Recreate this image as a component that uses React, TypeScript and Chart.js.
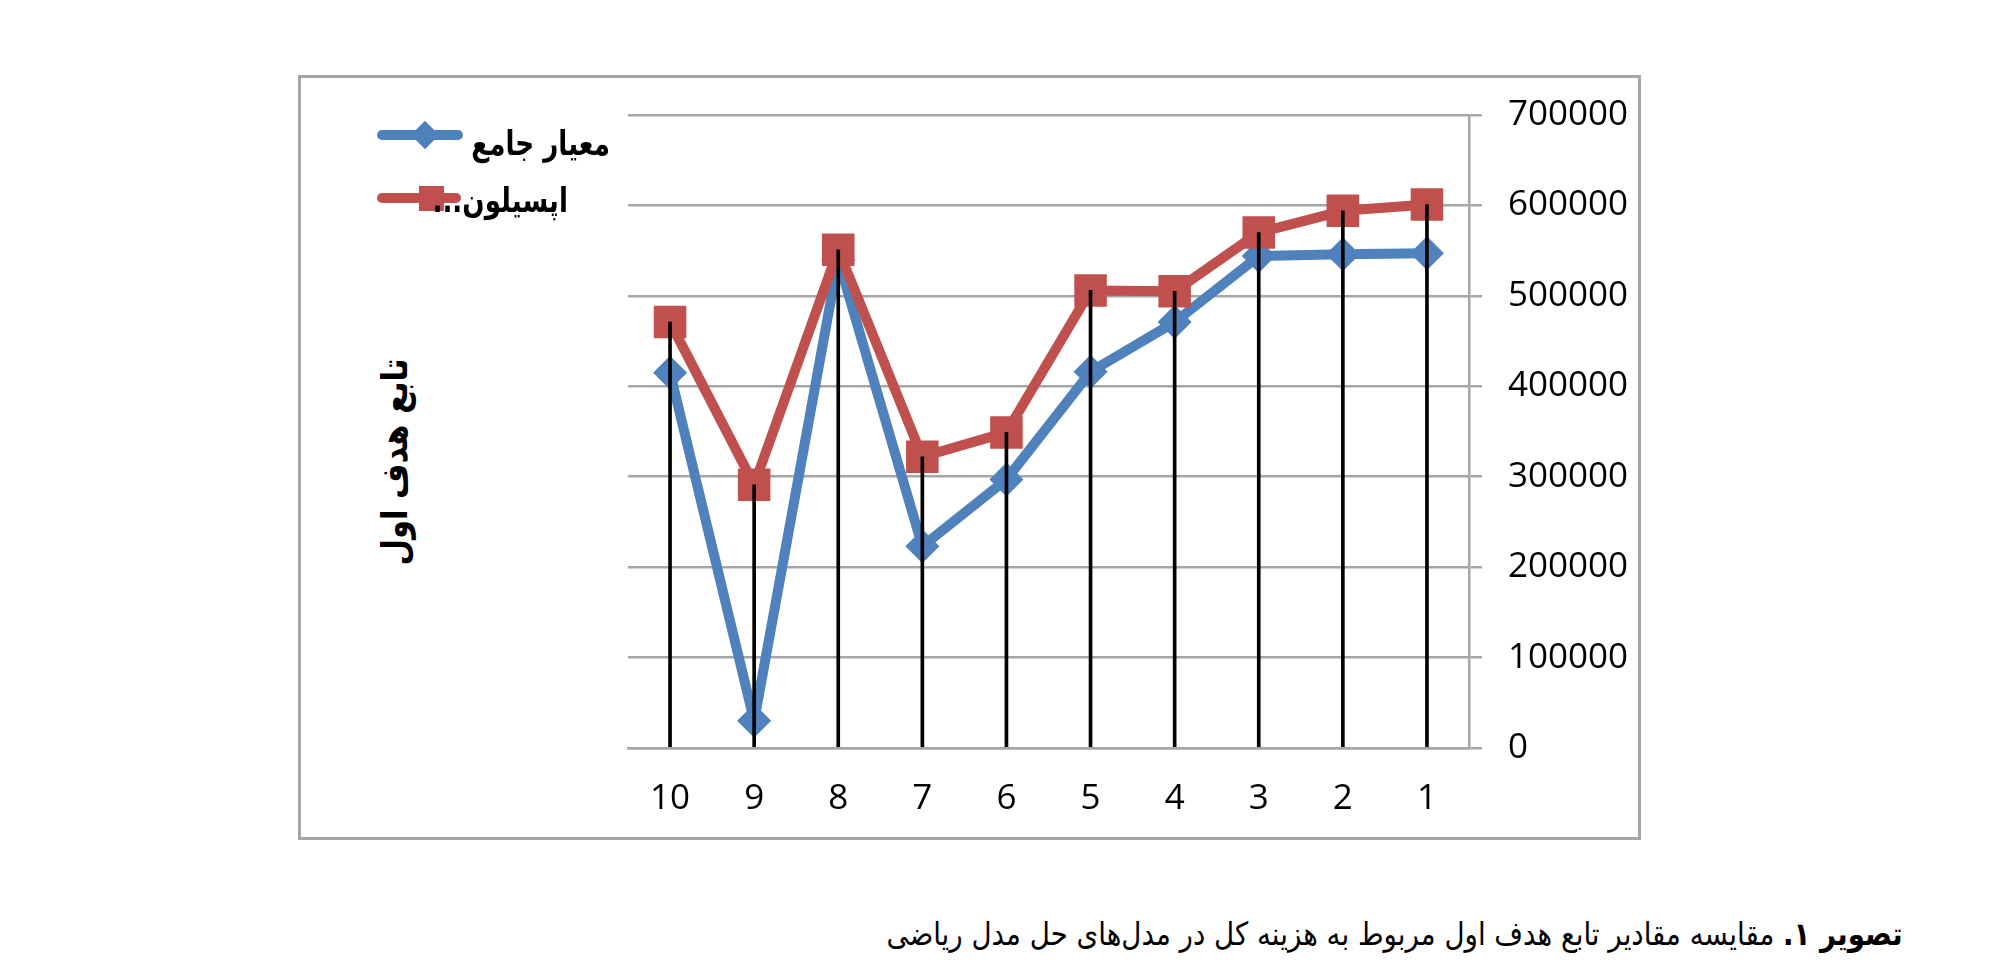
import { useEffect, useRef } from 'react'
import { Chart, registerables } from 'chart.js'

Chart.register(...registerables)

// categories run 1..10, drawn right-to-left (x axis reversed)
const CATEGORIES = ['1', '2', '3', '4', '5', '6', '7', '8', '9', '10']
const SERIES_NAMES = ['معیار جامع', 'اپسیلون...']
const COMPREHENSIVE = [547000, 546000, 544000, 471000, 416000, 297000, 223000, 540000, 30000, 415000]
const EPSILON = [601000, 594000, 570000, 505000, 506000, 349000, 322000, 551000, 291000, 471000]
const Y_MAX = 700000
const Y_STEP = 100000
const Y_TITLE = 'تابع هدف اول'
const CAPTION_BOLD = 'تصویر ۱.'
const CAPTION_TEXT = ' مقایسه مقادیر تابع هدف اول مربوط به هزینه کل در مدل‌های حل مدل ریاضی'

const BLUE = '#4f81bd'
const RED = '#c0504d'
const GRID = '#a6a6a6'
const AR_FONT = '"DejaVu Sans", sans-serif'

function LineChart() {
  const ref = useRef<HTMLCanvasElement>(null)

  useEffect(() => {
    if (!ref.current) return
    // drop lines go from the higher of the two points down to the axis
    const drop = COMPREHENSIVE.map((v, i) => Math.max(v, EPSILON[i]))
    const chart = new Chart(ref.current, {
      type: 'line',
      data: {
        labels: CATEGORIES,
        datasets: [
          { type: 'bar', label: 'drop', data: drop, backgroundColor: '#000', barThickness: 3, borderWidth: 0, order: 0 } as any,
          {
            label: SERIES_NAMES[1], data: EPSILON, borderColor: RED, backgroundColor: RED,
            borderWidth: 10, borderJoinStyle: 'round', borderCapStyle: 'round',
            pointStyle: 'rect', pointRadius: 23, pointBorderWidth: 0, order: 1,
          },
          {
            label: SERIES_NAMES[0], data: COMPREHENSIVE, borderColor: BLUE, backgroundColor: BLUE,
            borderWidth: 10, borderJoinStyle: 'round', borderCapStyle: 'round',
            pointStyle: 'rectRot', pointRadius: 17, pointBorderWidth: 0, order: 2,
          },
        ],
      },
      options: {
        animation: false,
        responsive: true,
        maintainAspectRatio: false,
        layout: { padding: { left: 28, top: 23, right: 0, bottom: 0 } },
        plugins: { legend: { display: false }, tooltip: { enabled: false } },
        scales: {
          x: {
            reverse: true,
            offset: true,
            grid: { display: false, drawTicks: false },
            border: { color: GRID, width: 2.5 },
            ticks: { color: '#000', padding: 30, font: { family: 'Open Sans', size: 35 } },
            afterFit: (s: any) => { s.height = 92 },
          },
          y: {
            position: 'right',
            min: 0,
            max: Y_MAX,
            grid: { color: GRID, lineWidth: 2.5, tickLength: 13 },
            border: { color: GRID, width: 2.5 },
            ticks: {
              stepSize: Y_STEP, color: '#000', padding: 26,
              font: { family: 'Open Sans', size: 35 },
              callback: (v: any) => String(v),
            },
            afterFit: (s: any) => { s.width = 191 },
          },
        },
      },
    })
    return () => chart.destroy()
  }, [])

  return (
    <div style={{ position: 'absolute', left: 600, top: 68, width: 1060, height: 772 }}>
      <canvas ref={ref} role="img" aria-label="مقایسه مقادیر تابع هدف اول" />
    </div>
  )
}

const arText = (size: number, weight: string, sx: number) => ({
  position: 'absolute' as const,
  font: `${weight} ${size}px ${AR_FONT}`,
  whiteSpace: 'nowrap' as const,
  lineHeight: 1,
  transformOrigin: 'right center',
  transform: `translateY(-50%) scaleX(${sx})`,
})

export default function App() {
  return (
    <div style={{ position: 'absolute', left: 0, top: 0, width: 2000, height: 976, background: '#fff', overflow: 'hidden' }}>
      <div style={{ position: 'absolute', left: 298, top: 75, width: 1337, height: 759, border: `3px solid ${GRID}` }} />
      <LineChart />

      {/* legend */}
      <div style={{ position: 'absolute', left: 377, top: 130, width: 86, height: 10, borderRadius: 5, background: BLUE }} />
      <div style={{ position: 'absolute', left: 415, top: 125, width: 20, height: 20, background: BLUE, transform: 'rotate(45deg)' }} />
      <div dir="rtl" style={{ ...arText(34, 'bold', 0.77), right: 2000 - 610, top: 143 }}>
        {SERIES_NAMES[0]}
      </div>
      <div style={{ position: 'absolute', left: 377, top: 193, width: 84, height: 10, borderRadius: 5, background: RED }} />
      <div style={{ position: 'absolute', left: 419, top: 186, width: 25, height: 25, background: RED }} />
      <div dir="rtl" style={{ ...arText(34, 'bold', 0.77), right: 2000 - 568, top: 200 }}>
        {SERIES_NAMES[1]}
      </div>

      {/* y axis title */}
      <div dir="rtl" style={{ position: 'absolute', left: 395, top: 462, transform: 'translate(-50%, -50%) rotate(-90deg) scaleX(0.85)', font: `bold 36px ${AR_FONT}`, whiteSpace: 'nowrap', lineHeight: 1 }}>
        {Y_TITLE}
      </div>

      {/* caption */}
      <div dir="rtl" style={{ ...arText(32, 'normal', 0.865), right: 2000 - 1903, top: 934 }}>
        <b>{CAPTION_BOLD}</b>{CAPTION_TEXT}
      </div>
    </div>
  )
}
